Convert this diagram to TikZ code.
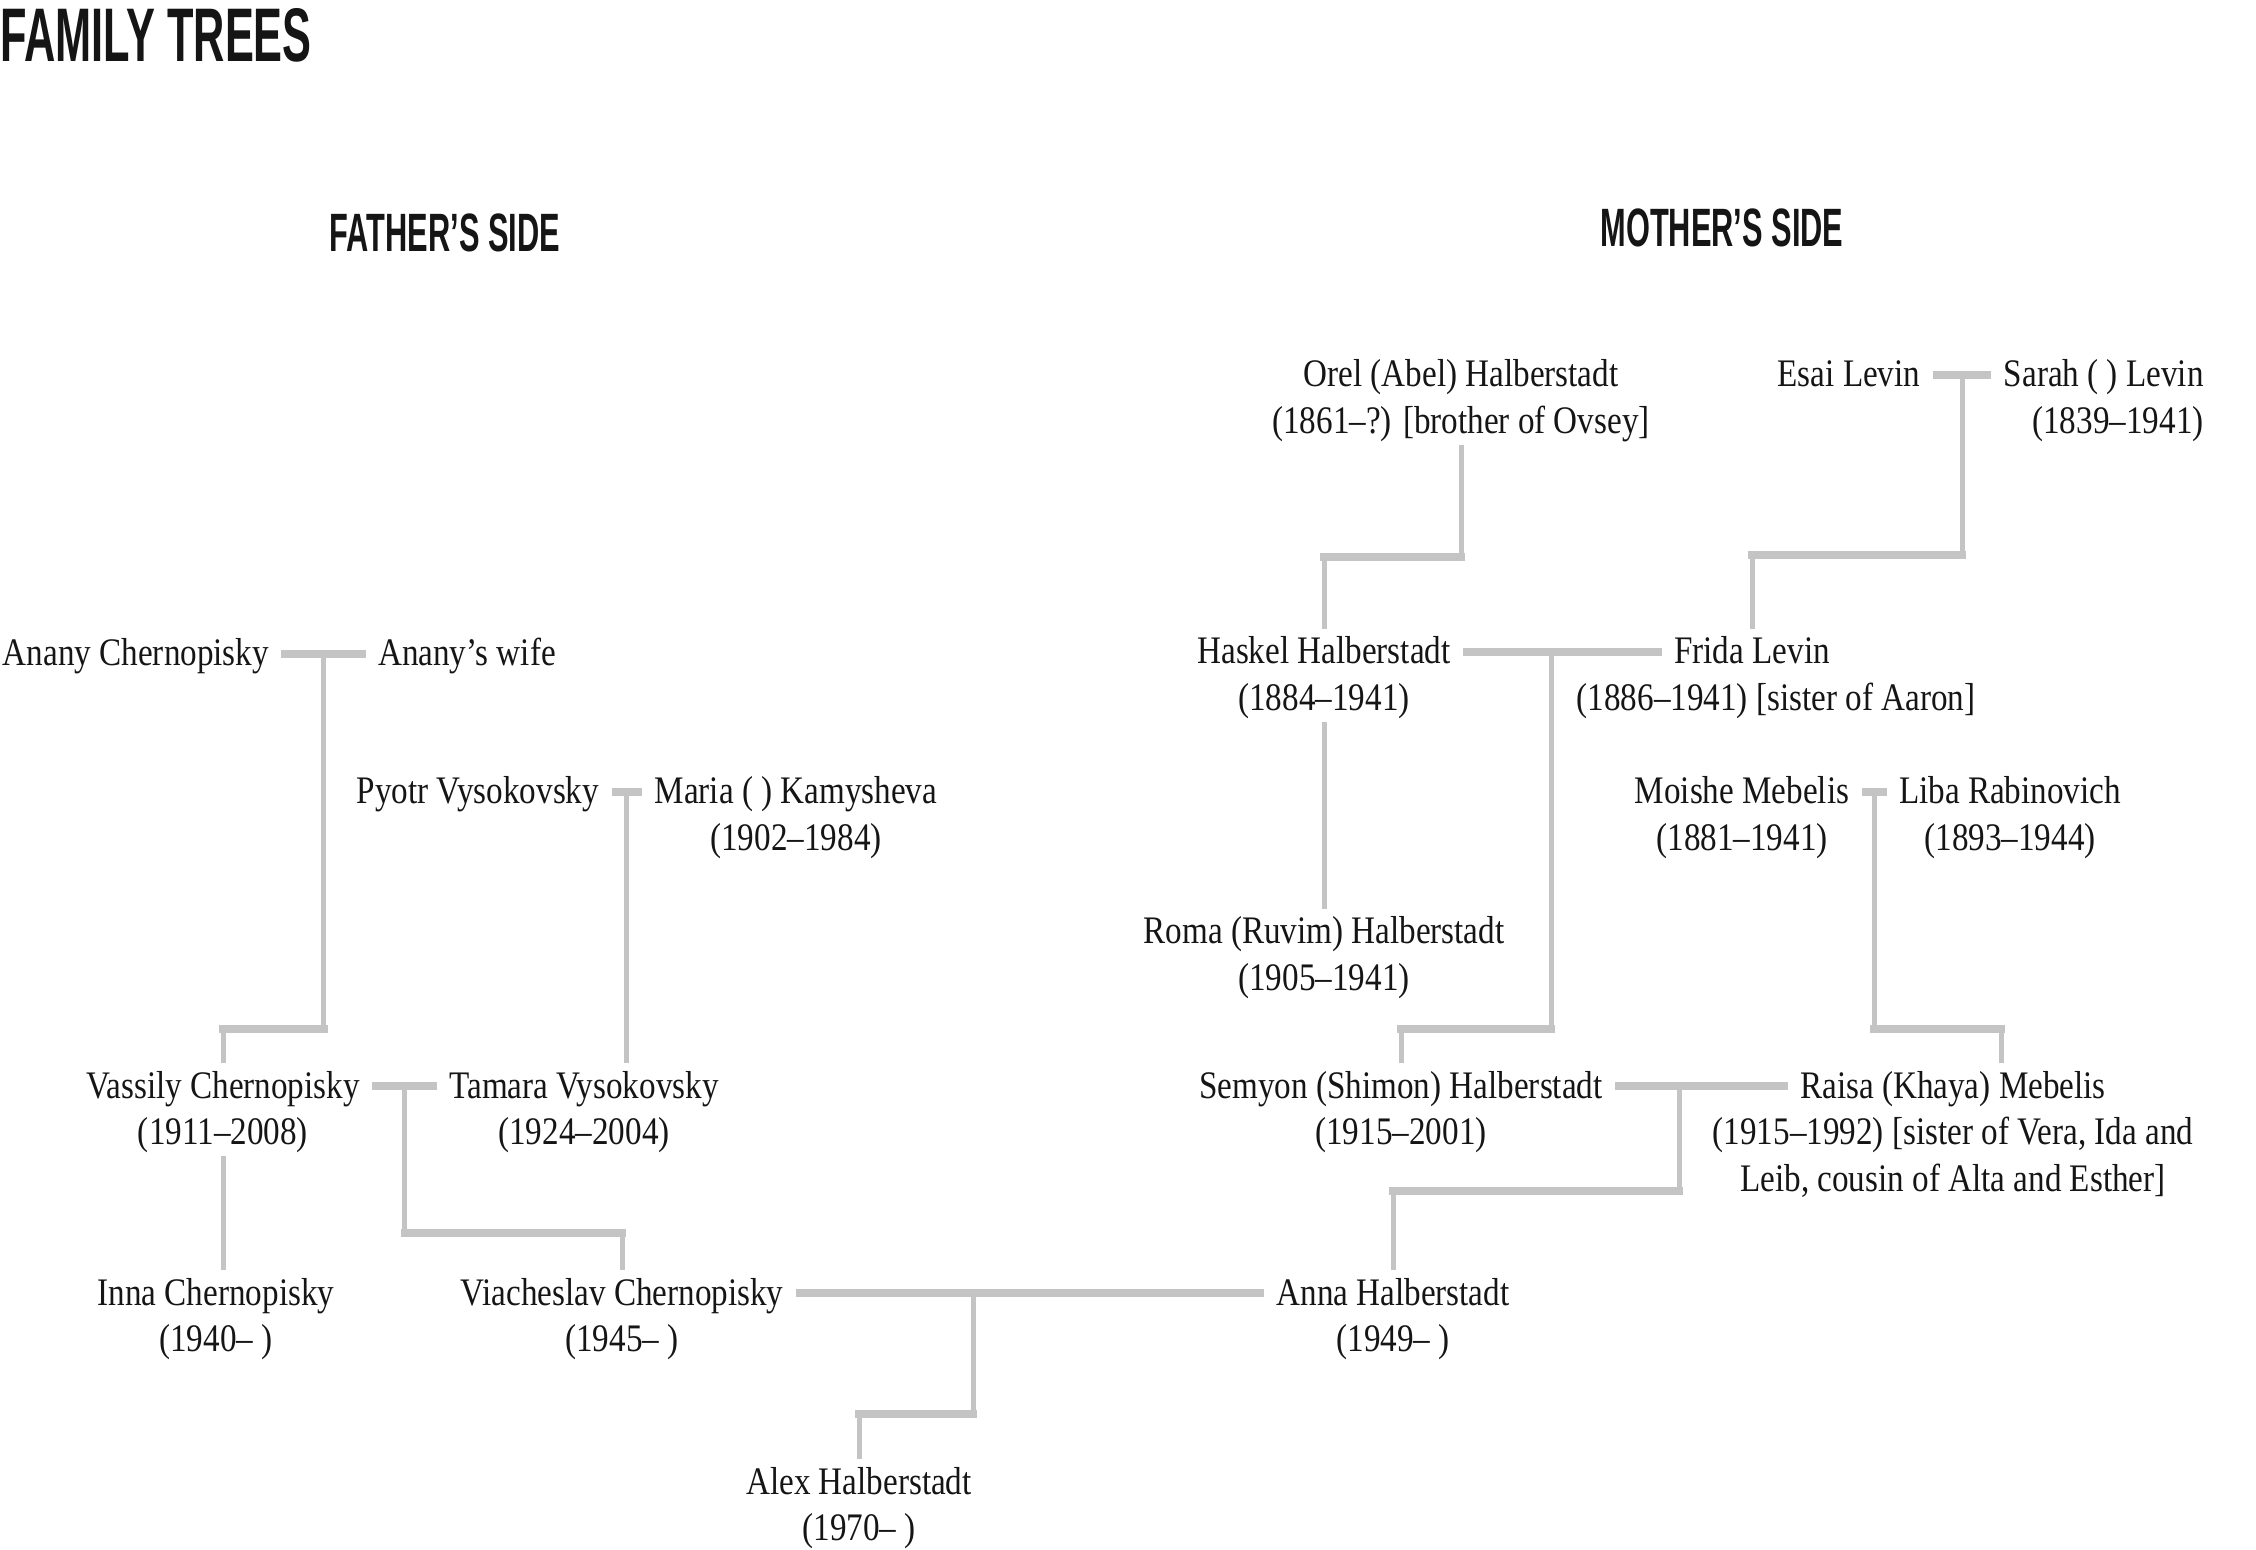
\documentclass[tikz,border=0pt]{standalone}
\usepackage{fontspec}
\setmainfont{Liberation Serif}[FakeStretch=0.85]
\newfontfamily\headfont{Liberation Sans}[FakeStretch=0.57]
\usetikzlibrary{positioning,calc}
\definecolor{linegray}{HTML}{C4C4C4}
\definecolor{ink}{HTML}{151515}
\tikzset{
  pers/.style={font=\fontsize{19.5}{23}\selectfont, text=ink, inner xsep=6pt, inner ysep=1.5pt, text height=16pt, text depth=4pt},
  head/.style={font=\headfont\bfseries\fontsize{27}{30}\selectfont, text=ink, inner sep=0pt, anchor=base},
  bar/.style={draw=linegray, line width=4pt},
  elbow/.style={draw=linegray, line width=4pt, line cap=rect},
  stem/.style={draw=linegray, line width=2.5pt},
}

\begin{document}
\begin{tikzpicture}[x=0.5pt, y=-0.5pt]
\useasboundingbox (0,0) rectangle (2256,1550);
%
\node (title) [head, anchor=base west, font=\headfont\bfseries\fontsize{38}{42}\selectfont] at (0,62) {FAMILY TREES};
\node (fside) [head] at (445,252) {FATHER’S SIDE};
\node (mside) [head] at (1722,247) {MOTHER’S SIDE};
%
% father's side
\node (anany) [pers] at (136,654) {Anany Chernopisky};
\node (ananyw) [pers] at (467,654) {Anany’s wife};
\node (pyotr) [pers] at (478,792) {Pyotr Vysokovsky};
\node (maria) [pers] at (796,792) {Maria ( ) Kamysheva};
\node (maria-y) [pers, below=0pt of maria] {(1902--1984)};
\node (vassily) [pers] at (223,1086) {Vassily Chernopisky};
\node (vassily-y) [pers, below=0pt of vassily] {(1911--2008)};
\node (tamara) [pers] at (584,1086) {Tamara Vysokovsky};
\node (tamara-y) [pers, below=0pt of tamara] {(1924--2004)};
\node (inna) [pers] at (216,1293) {Inna Chernopisky};
\node (inna-y) [pers, below=0pt of inna] {(1940-- )};
\node (viach) [pers] at (622,1293) {Viacheslav Chernopisky};
\node (viach-y) [pers, below=0pt of viach] {(1945-- )};
\node (alex) [pers] at (859,1482) {Alex Halberstadt};
\node (alex-y) [pers, below=0pt of alex] {(1970-- )};
%
% mother's side
\node (orel) [pers] at (1461,375) {Orel (Abel) Halberstadt};
\node (orel-y) [pers, below=0pt of orel] {(1861--?) [brother of Ovsey]};
\node (esai) [pers] at (1849,375) {Esai Levin};
\node (sarah) [pers, anchor=east] at (2216,375) {Sarah ( ) Levin};
\node (sarah-y) [pers, below left=0pt of sarah.south east] {(1839--1941)};
\node (haskel) [pers] at (1324,652) {Haskel Halberstadt};
\node (haskel-y) [pers, below=0pt of haskel] {(1884--1941)};
\node (frida) [pers] at (1752,652) {Frida Levin};
\node (frida-y) [pers, below=0pt of frida, xshift=12pt] {(1886--1941) [sister of Aaron]};
\node (moishe) [pers] at (1742,792) {Moishe Mebelis};
\node (moishe-y) [pers, below=0pt of moishe] {(1881--1941)};
\node (liba) [pers] at (2010,792) {Liba Rabinovich};
\node (liba-y) [pers, below=0pt of liba] {(1893--1944)};
\node (roma) [pers] at (1324,932) {Roma (Ruvim) Halberstadt};
\node (roma-y) [pers, below=0pt of roma] {(1905--1941)};
\node (semyon) [pers] at (1401,1086) {Semyon (Shimon) Halberstadt};
\node (semyon-y) [pers, below=0pt of semyon] {(1915--2001)};
\node (raisa) [pers] at (1953,1086) {Raisa (Khaya) Mebelis};
\node (raisa-y) [pers, below=0pt of raisa] {(1915--1992) [sister of Vera, Ida and};
\node (raisa-z) [pers, below=0pt of raisa-y] {Leib, cousin of Alta and Esther]};
\node (anna) [pers] at (1393,1293) {Anna Halberstadt};
\node (anna-y) [pers, below=0pt of anna] {(1949-- )};
%
% couples
\coordinate (aa) at ($(anany.east)!0.5!(ananyw.west)$);
\coordinate (pm) at ($(pyotr.east)!0.5!(maria.west)$);
\coordinate (vt) at ($(vassily.east)!0.5!(tamara.west)$);
\coordinate (va) at (973,1293);
\coordinate (es) at ($(esai.east)!0.5!(sarah.west)$);
\coordinate (hf) at (1551,652);
\coordinate (ml) at ($(moishe.east)!0.5!(liba.west)$);
\coordinate (sr) at (1679,1086);
%
\path[bar] (anany) edge (ananyw);
\path[bar] (pyotr) edge (maria);
\path[bar] (vassily) edge (tamara);
\path[bar] (viach) edge (anna);
\path[bar] (esai) edge (sarah);
\path[bar] (haskel) edge (frida);
\path[bar] (moishe) edge (liba);
\path[bar] (semyon) edge (raisa);
%
% elbows down to the children
\coordinate (aa-k) at (aa |- 0,1029);
\coordinate (vt-k) at (vt |- 0,1233);
\coordinate (va-k) at (va |- 0,1414);
\coordinate (or-k) at (orel-y.south |- 0,557);
\coordinate (es-k) at (es |- 0,555);
\coordinate (hf-k) at (hf |- 0,1029);
\coordinate (ml-k) at (ml |- 0,1029);
\coordinate (sr-k) at (sr |- 0,1191);
\coordinate (rs-k) at (2001,1029);
%
\path[stem] (aa) edge (aa-k);
\path[elbow] (aa-k) edge (aa-k -| vassily);
\path[stem] (aa-k -| vassily) edge (vassily);
\path[stem] (pm) edge (pm |- tamara.north);
\path[stem] (vt) edge (vt-k);
\path[elbow] (vt-k) edge (vt-k -| viach);
\path[stem] (vt-k -| viach) edge (viach);
\path[stem] (vassily-y.south) edge (vassily-y.south |- inna.north);
\path[stem] (va) edge (va-k);
\path[elbow] (va-k) edge (va-k -| alex);
\path[stem] (va-k -| alex) edge (alex);
%
\path[stem] (orel-y.south) edge (or-k);
\path[elbow] (or-k) edge (or-k -| haskel);
\path[stem] (or-k -| haskel) edge (haskel);
\path[stem] (es) edge (es-k);
\path[elbow] (es-k) edge (es-k -| frida);
\path[stem] (es-k -| frida) edge (frida);
\path[stem] (haskel-y) edge (roma);
\path[stem] (hf) edge (hf-k);
\path[elbow] (hf-k) edge (hf-k -| semyon);
\path[stem] (hf-k -| semyon) edge (semyon);
\path[stem] (ml) edge (ml-k);
\path[elbow] (ml-k) edge (rs-k);
\path[stem] (rs-k) edge (rs-k |- raisa.north);
\path[stem] (sr) edge (sr-k);
\path[elbow] (sr-k) edge (sr-k -| anna);
\path[stem] (sr-k -| anna) edge (anna);
\end{tikzpicture}
\end{document}
